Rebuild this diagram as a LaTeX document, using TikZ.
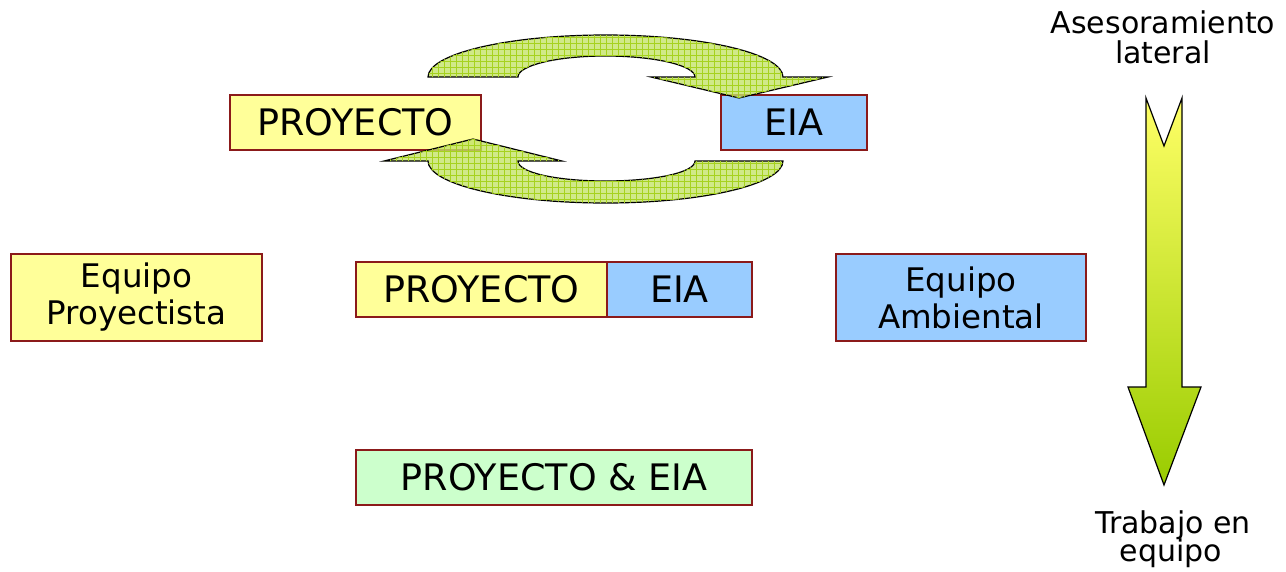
\documentclass[tikz,border=0pt]{standalone}
\usepackage{fontspec}
\setmainfont{DejaVu Sans}
\usetikzlibrary{patterns}
\definecolor{boxred}{HTML}{8B1A1A}
\definecolor{pyellow}{HTML}{FFFF99}
\definecolor{eblue}{HTML}{99CCFF}
\definecolor{pgreen}{HTML}{CCFFCC}
\definecolor{arrfill}{HTML}{C4E36A}
\definecolor{arrgrid}{HTML}{A6D21E}
\definecolor{gtop}{HTML}{FFFF66}
\definecolor{gbot}{HTML}{99CC00}
\pgfdeclarepatternformonly{mygrid}{\pgfqpoint{-1pt}{-1pt}}{\pgfqpoint{7pt}{7pt}}{\pgfqpoint{6pt}{6pt}}{
  \pgfsetlinewidth{0.6pt}
  \pgfpathmoveto{\pgfqpoint{0pt}{-0.5pt}}\pgfpathlineto{\pgfqpoint{0pt}{6.5pt}}
  \pgfpathmoveto{\pgfqpoint{-0.5pt}{0pt}}\pgfpathlineto{\pgfqpoint{6.5pt}{0pt}}
  \pgfusepath{stroke}}
\tikzset{
  box/.style={draw=boxred, line width=1.4pt, inner sep=0pt, align=center},
  bigtxt/.style={font=\fontsize{36.5}{40}\selectfont},
  midtxt/.style={font=\fontsize{32.5}{37}\selectfont},
  sidetxt/.style={font=\fontsize{30}{30}\selectfont, anchor=base},
  cyclearrow/.style={fill=arrfill, fill opacity=0.8, draw=black, line width=1.2pt,
    postaction={pattern=mygrid, pattern color=arrgrid, fill opacity=0.9}},
}
\begin{document}
\begin{tikzpicture}[x=1pt,y=-1pt]
\useasboundingbox (0,0) rectangle (1286,571);
% boxes
\node[box, bigtxt, fill=pyellow, minimum width=251pt, minimum height=55pt] (p1) at (355.5,122.5) {PROYECTO};
\node[box, bigtxt, fill=eblue, minimum width=146pt, minimum height=55pt] (e1) at (794,122.5) {EIA};
\node[box, midtxt, fill=pyellow, minimum width=251pt, minimum height=87pt] (eqp) at (136.5,297.5) {Equipo\\Proyectista};
\node[box, bigtxt, fill=pyellow, minimum width=251pt, minimum height=55pt] (p2) at (481.5,289.5) {PROYECTO};
\node[box, bigtxt, fill=eblue, minimum width=145pt, minimum height=55pt] (e2) at (679.5,289.5) {EIA};
\node[box, midtxt, fill=eblue, minimum width=250pt, minimum height=87pt] (eqa) at (961,297.5) {Equipo\\Ambiental};
\node[box, bigtxt, fill=pgreen, minimum width=396pt, minimum height=55pt] (pe) at (554,477.5) {PROYECTO \& EIA};
% cycle arrows
\path[cyclearrow] (428,77) .. controls (428,53.8) and (507.5,35) .. (605.5,35)
  .. controls (703.5,35) and (783,53.8) .. (783,77)
  -- (828,77) -- (739,98) -- (651,77) -- (695,77)
  .. controls (695,65.4) and (654.4,56) .. (605.5,56)
  .. controls (556.6,56) and (518,65.4) .. (518,77) -- cycle;
\path[cyclearrow] (783,161) .. controls (783,184.2) and (703.5,203) .. (605.5,203)
  .. controls (507.5,203) and (428,184.2) .. (428,161)
  -- (384,161) -- (473,139) -- (562,161) -- (518,161)
  .. controls (518,172.6) and (556.6,181) .. (605.5,181)
  .. controls (654.4,181) and (695,172.6) .. (695,161) -- cycle;
% big down arrow
\shade[top color=gtop, bottom color=gbot] (1146,98) -- (1164,146) -- (1182,98) -- (1182,387) -- (1201,387) -- (1164,485) -- (1128,387) -- (1146,387) -- cycle;
\draw[line width=1.2pt, line join=miter] (1146,98) -- (1164,146) -- (1182,98) -- (1182,387) -- (1201,387) -- (1164,485) -- (1128,387) -- (1146,387) -- cycle;
% side labels
\node[sidetxt] (as1) at (1163,33) {Asesoramiento};
\node[sidetxt] (as2) at (1163,63) {lateral};
\node[sidetxt] (tr1) at (1173,533) {Trabajo en};
\node[sidetxt] (tr2) at (1171,561) {equipo};
\end{tikzpicture}
\end{document}
